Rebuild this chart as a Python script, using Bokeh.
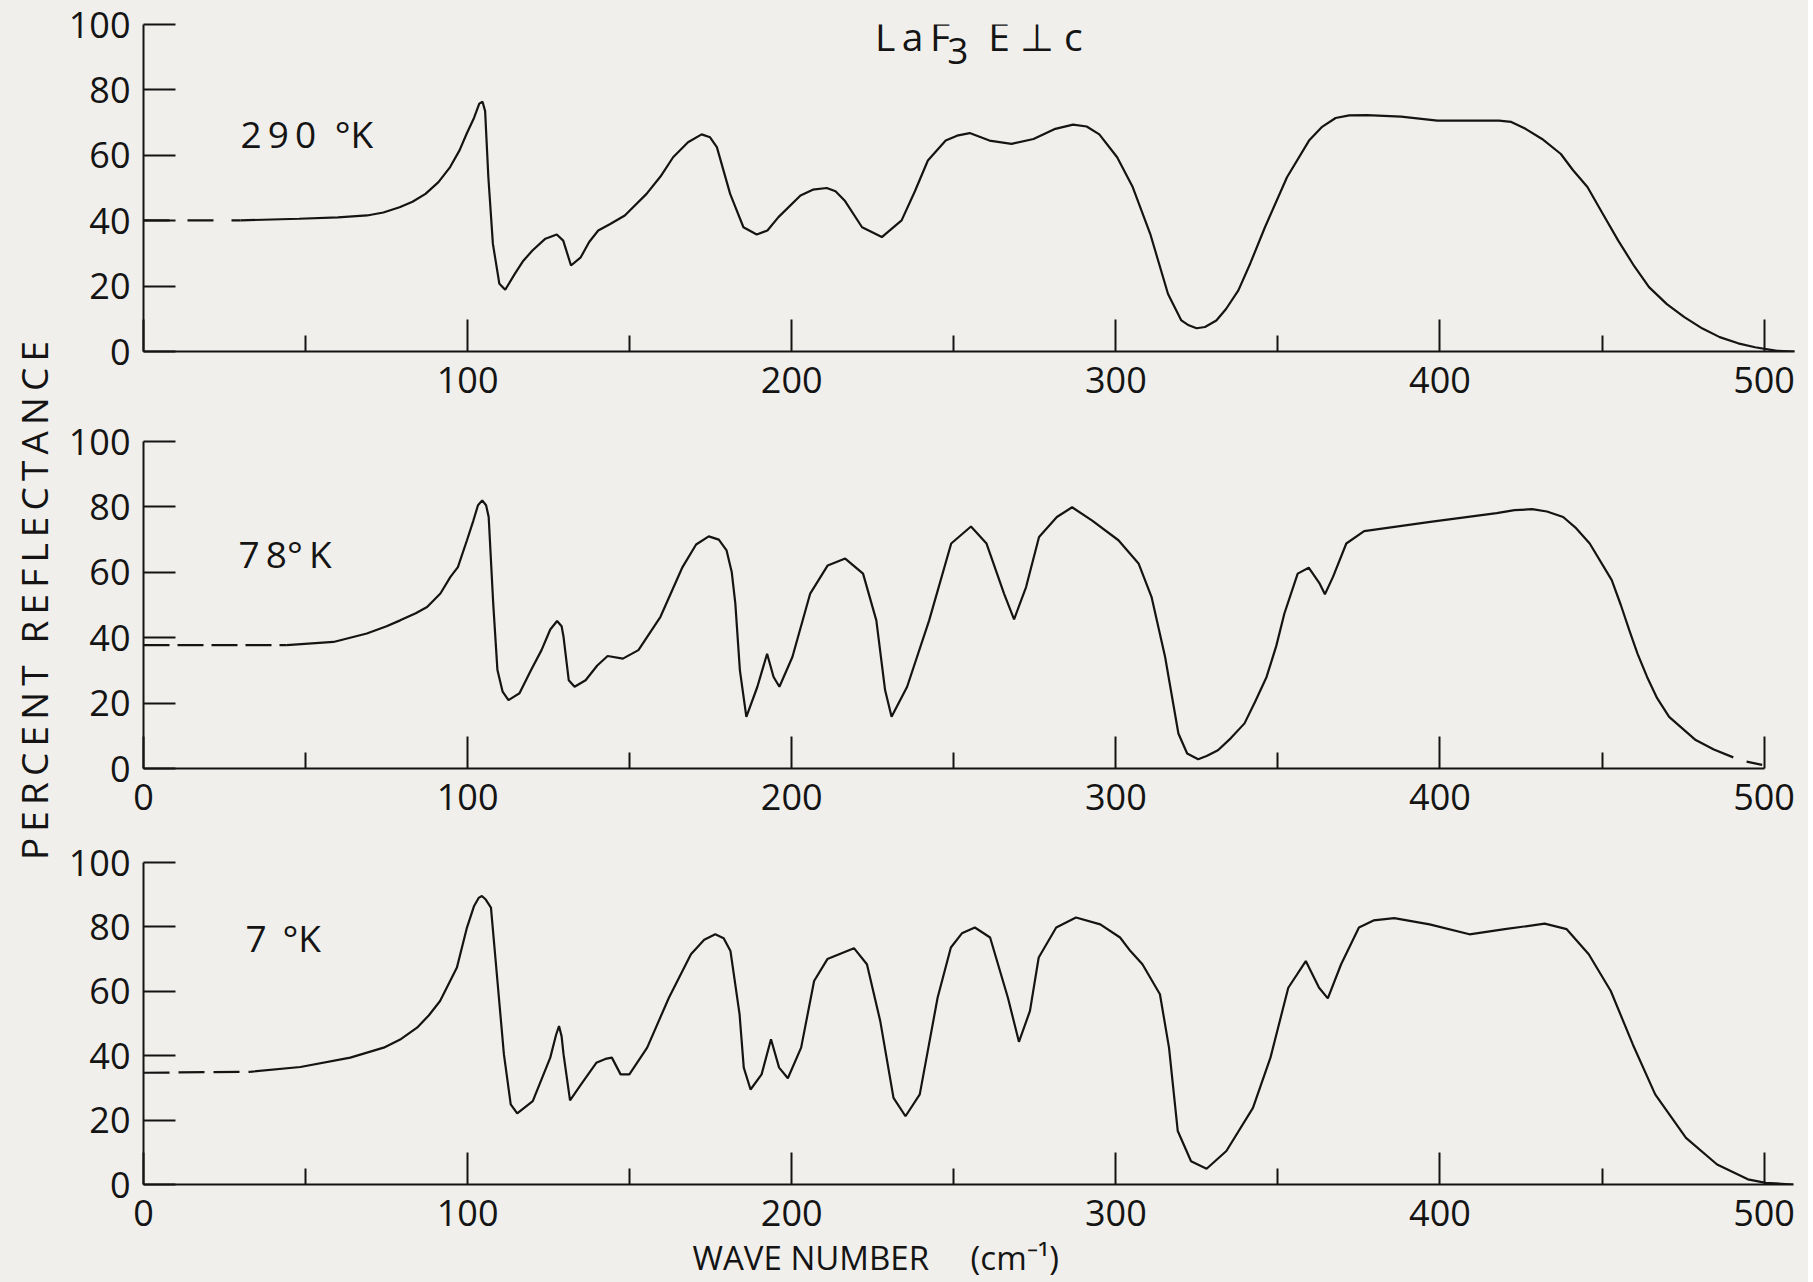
import math
from bokeh.plotting import figure
from bokeh.layouts import column, row
from bokeh.models import Range1d, FixedTicker, Label, Title
from bokeh.embed import file_html
from bokeh.resources import INLINE

# ---------------- data ----------------
x_ticks = [0, 100, 200, 300, 400, 500]
x_minor = [50, 150, 250, 350, 450]
y_ticks = [0, 20, 40, 60, 80, 100]

temp_labels = ["2\u20099\u20090\u2002°K", "7\u20098°\u2009K", "7\u00a0\u2009°K"]

# 290 K : (wave number, percent reflectance)
pts290 = [(30, 40.1), (48, 40.6), (60, 41.0), (69, 41.6), (74, 42.5), (79, 44.1), (83, 45.8),
          (87, 48.2), (91, 51.8), (94.6, 56.4), (97.5, 61.5), (99.7, 66.6), (102, 71.5),
          (103.6, 75.8), (104.6, 76.4), (105.4, 73.5), (106.4, 53.3), (107.8, 32.9), (109.8, 20.7),
          (111.6, 18.9), (114.6, 23.8), (117, 27.5), (120, 30.9), (124, 34.5), (127.5, 35.8),
          (129.5, 33.9), (131.9, 26.3), (134.9, 28.8), (137.5, 33.5), (140.3, 37.0), (144, 39.0),
          (148.5, 41.6), (155.2, 48.2), (159.5, 53.5), (163.4, 59.4), (168, 64.0), (172.2, 66.4),
          (174.8, 65.5), (176.9, 62.5), (181, 48.2), (185.1, 38.0), (189.2, 35.8), (192.5, 37.0),
          (195.9, 41.1), (202.7, 47.7), (206.5, 49.5), (210.8, 50.0), (213.5, 49.0), (216.3, 46.2),
          (221.7, 38.0), (227.8, 35.0), (233.9, 40.1), (238, 49.0), (242, 58.4), (247.5, 64.5),
          (251, 66.0), (254.9, 66.8), (261, 64.5), (267.8, 63.5), (274.6, 65.0), (281, 68.0),
          (286.8, 69.4), (291, 68.8), (294.9, 66.4), (300.4, 59.4), (305.2, 50.3), (310.6, 36.0),
          (316.1, 17.6), (320.2, 9.5), (322.5, 8.0), (324.9, 7.1), (327.5, 7.5), (331, 9.5),
          (334, 13.0), (337.8, 18.7), (341.5, 27.0), (346, 38.0), (352.8, 53.3), (359.6, 64.5),
          (363.5, 68.6), (367.8, 71.4), (372, 72.2), (377.4, 72.3), (388, 71.8), (399.2, 70.6),
          (409, 70.6), (418.2, 70.6), (422, 70.2), (426.4, 68.1), (431.5, 65.0), (437.3, 60.4),
          (441, 55.5), (445.5, 50.3), (450, 42.5), (455, 33.9), (460, 26.0), (464.5, 19.7),
          (470, 14.5), (475.4, 10.5), (481, 7.0), (486.3, 4.4), (492, 2.5), (497.2, 1.3),
          (504, 0.2), (509.4, 0.0)]
dash290 = [(0, 40.1), (30, 40.1)]

# 78 K
pts78 = [(44.2, 37.7), (58.6, 38.7), (68.9, 41.3), (75, 43.5), (79.2, 45.3), (84, 47.5), (87.5, 49.4),
         (91.6, 53.5), (94.7, 58.6), (97.0, 61.6), (99.8, 69.8), (101.8, 75.9), (103.2, 80.5),
         (104.5, 82.0), (105.7, 80.5), (106.5, 76.9), (107.9, 50.4), (109.2, 30.1), (110.8, 23.5),
         (112.6, 20.9), (116.0, 23.0), (119.5, 30.0), (122.8, 36.2), (125.5, 42.5), (127.6, 45.1),
         (129.0, 43.5), (129.6, 40.2), (131.2, 27.0), (133.0, 25.0), (136.4, 27.0), (140, 31.5),
         (143.2, 34.4), (147.9, 33.6), (152.7, 36.2), (159.5, 46.4), (166.3, 61.6), (170.5, 68.5),
         (174.4, 71.0), (177.5, 70.0), (179.9, 66.7), (181.5, 60.0), (182.6, 50.4), (184.0, 30.1),
         (186.0, 15.8), (189.4, 25.0), (192.4, 35.1), (194.4, 28.0), (196.2, 25.0), (200.2, 34.1),
         (205.7, 53.5), (211.1, 62.1), (216.5, 64.2), (222.0, 59.6), (226.1, 45.3), (228.8, 24.0),
         (230.8, 15.8), (235.6, 25.0), (242.4, 45.3), (249.2, 68.8), (255.3, 74.0), (260.1, 68.8),
         (265.5, 53.5), (268.6, 45.6), (272.3, 55.5), (276.3, 70.8), (281.8, 76.9), (286.5, 79.9),
         (292.6, 75.9), (300.8, 69.8), (307.0, 62.7), (311.0, 52.5), (315.2, 34.1), (319.3, 10.7),
         (322.0, 4.6), (325.4, 2.8), (328, 3.8), (331.5, 5.6), (335.5, 9.3), (339.7, 13.8),
         (343, 20.5), (346.5, 28.0), (349.5, 37.5), (352.0, 47.4), (356.1, 59.6), (359.5, 61.4),
         (362.9, 56.5), (364.5, 53.3), (367.0, 58.6), (371.1, 68.8), (376.6, 72.6), (397.0, 75.4),
         (417.5, 78.1), (423, 79.0), (428.4, 79.3), (433, 78.6), (438.0, 76.9), (442, 73.5),
         (446.2, 68.8), (453.0, 57.6), (455.8, 50.0), (458.4, 42.3), (461, 35.0), (463.9, 28.0),
         (467, 21.5), (470.7, 15.8), (478.9, 8.7), (484.5, 5.8), (490.5, 3.4)]
dash78 = [(0, 37.7), (44.2, 37.7)]
tail78 = [(494.6, 2.1), (499.4, 1.1)]

# 7 K
pts7 = [(32.9, 35.0), (48.4, 36.5), (63.8, 39.4), (74.1, 42.5), (79.5, 45.2), (84.4, 48.7), (88, 52.5),
        (91.5, 57.0), (96.7, 67.4), (99.8, 79.8), (102, 86.5), (103.4, 89.0), (104.4, 89.6),
        (105.6, 88.5), (107.2, 86.0), (109.2, 63.2), (111.2, 40.4), (113.3, 24.9), (115.3, 22.1),
        (120.1, 25.9), (125.5, 39.4), (127.3, 46.5), (128.2, 49.2), (129.0, 46.0), (129.6, 40.4),
        (131.6, 26.1), (135.0, 31.1), (139.7, 37.8), (142.5, 39.0), (144.5, 39.4), (147.2, 34.2),
        (149.9, 34.2), (155.4, 42.5), (162.1, 58.0), (168.9, 71.5), (173, 76.0), (176.4, 77.7),
        (179, 76.5), (181.1, 72.5), (183.9, 52.9), (185.2, 36.3), (187.3, 29.5), (190.7, 34.2),
        (193.6, 45.1), (196.1, 36.3), (198.8, 33.0), (202.9, 42.5), (206.9, 63.2), (211.0, 70.0),
        (219.2, 73.4), (223.2, 68.4), (227.3, 50.8), (231.4, 26.9), (235.1, 21.2), (239.5, 28.0),
        (245.0, 58.0), (249.1, 73.6), (252.5, 78.0), (256.5, 79.8), (261.2, 76.7), (266.7, 58.0),
        (270.1, 44.3), (273.5, 53.9), (276.2, 70.5), (281.6, 79.8), (287.7, 82.9), (295.2, 80.8),
        (301.3, 76.7), (304.5, 72.5), (308.2, 68.4), (313.6, 59.1), (316.4, 42.5), (319.1, 16.6),
        (323.2, 7.2), (328.0, 4.9), (334.1, 10.4), (342.3, 23.8), (347.7, 39.4), (353.2, 61.1),
        (358.6, 69.4), (362.7, 61.1), (365.4, 57.8), (369.5, 68.4), (375.0, 79.8), (379.5, 82.0),
        (385.9, 82.7), (396.8, 80.8), (409.1, 77.7), (420.0, 79.3), (432.3, 81.0), (439.1, 79.3),
        (445.9, 71.5), (452.7, 60.1), (459.5, 43.5), (466.4, 28.0), (475.9, 14.5), (485.5, 6.2),
        (495.0, 1.6), (500.5, 0.5), (509, 0.0)]
dash7 = [(0, 34.7), (32.9, 35.0)]

# ---------------- style ----------------
BG = "#f0efeb"
INK = "#141414"
FONT = "Open Sans"
TICK_FS = "36px"
LW = 2.2
LABW = 60          # width of the strip holding the common y label
FRAME_W = 1653


def xy(pts):
    return [p[0] for p in pts], [p[1] for p in pts]


def panel(top, frame_h, bottom, xbound, show_zero):
    p = figure(frame_width=FRAME_W, frame_height=frame_h,
               x_range=Range1d(0, 510), y_range=Range1d(0, 100),
               output_backend="svg", toolbar_location=None,
               min_border_left=143 - LABW, min_border_right=12,
               min_border_top=top, min_border_bottom=bottom,
               background_fill_color=BG, border_fill_color=BG,
               outline_line_color=None)
    p.grid.visible = False
    xa, ya = p.xaxis[0], p.yaxis[0]
    xa.ticker = FixedTicker(ticks=x_ticks, minor_ticks=x_minor)
    ya.ticker = FixedTicker(ticks=y_ticks, minor_ticks=[])
    xa.bounds = xbound
    ya.bounds = (0, 100)
    for ax in (xa, ya):
        ax.axis_line_color = INK
        ax.axis_line_width = 2
        ax.major_tick_line_color = INK
        ax.major_tick_line_width = 2
        ax.minor_tick_line_color = INK
        ax.minor_tick_line_width = 2
        ax.major_tick_in = 32
        ax.major_tick_out = 0
        ax.minor_tick_in = 16
        ax.minor_tick_out = 0
        ax.major_label_text_font = FONT
        ax.major_label_text_font_size = TICK_FS
        ax.major_label_text_color = INK
    xa.major_label_standoff = 15
    ya.major_label_standoff = 13
    if not show_zero:
        xa.major_label_overrides = {0: ""}
    return p


B1, B2, B3 = 58, 58, 96
T1 = 24
T2 = 441 - (T1 + 327 + B1)
T3 = 862 - (441 + 327 + B2)
p1 = panel(T1, 327, B1, (0, 509.5), False)
p2 = panel(T2, 327, B2, (0, 500), True)
p3 = panel(T3, 322, B3, (0, 509), True)

for p, pts, dash, pat in ((p1, pts290, dash290, "26 18"), (p2, pts78, dash78, "26 8"),
                          (p3, pts7, dash7, "26 9")):
    x, y = xy(pts)
    p.line(x, y, line_color=INK, line_width=LW)
    dx, dy = xy(dash)
    p.line(dx, dy, line_color=INK, line_width=LW, line_dash=pat)
tx, ty = xy(tail78)
p2.line(tx, ty, line_color=INK, line_width=LW)


def lab(p, x, y, text, size):
    p.add_layout(Label(x=x, y=y, text=text, text_font=FONT, text_font_size=size,
                       text_color=INK, text_baseline="alphabetic", text_align="left"))


lab(p1, 29.9, 66.7, temp_labels[0], "37px")
lab(p2, 29.3, 65.8, temp_labels[1], "37px")
lab(p3, 31.5, 76.6, temp_labels[2], "37px")

# title  LaF3 E⊥c
lab(p1, 225.7, 96.5, "L\u2009a\u2009F", "39px")
lab(p1, 248.0, 92.0, "3", "37px")
lab(p1, 260.6, 96.5, "E \u22a5 c", "39px")

# x axis label (bottom panel)
p3.add_layout(Title(text="WAVE NUMBER\u00a0\u2003(cm\u207b\u00b9)", align="left", offset=549,
                    text_font=FONT, text_font_size="33px", text_font_style="normal",
                    text_color=INK, standoff=9), "below")

# common y label, in a narrow strip to the left of the three panels
TOTAL_H = (T1 + 327 + B1) + (T2 + 327 + B2) + (T3 + 322 + B3)
strip = figure(width=LABW, height=TOTAL_H, x_range=Range1d(0, LABW), y_range=Range1d(0, TOTAL_H),
               output_backend="svg", toolbar_location=None, min_border=0,
               background_fill_color=BG, border_fill_color=BG, outline_line_color=None)
strip.axis.visible = False
strip.grid.visible = False


def spaced(s):
    return "\u2009\u00a0\u2009".join("\u2009".join(w) for w in s.split(" "))


strip.add_layout(Label(x=33, y=TOTAL_H - 600, text=spaced("PERCENT REFLECTANCE"), angle=math.pi / 2,
                       text_font=FONT, text_font_size="37px", text_color=INK,
                       text_align="center", text_baseline="middle"))

layout = row(strip, column(p1, p2, p3, spacing=0), spacing=0, background=BG)
open("out.html", "w").write(file_html(layout, INLINE))
